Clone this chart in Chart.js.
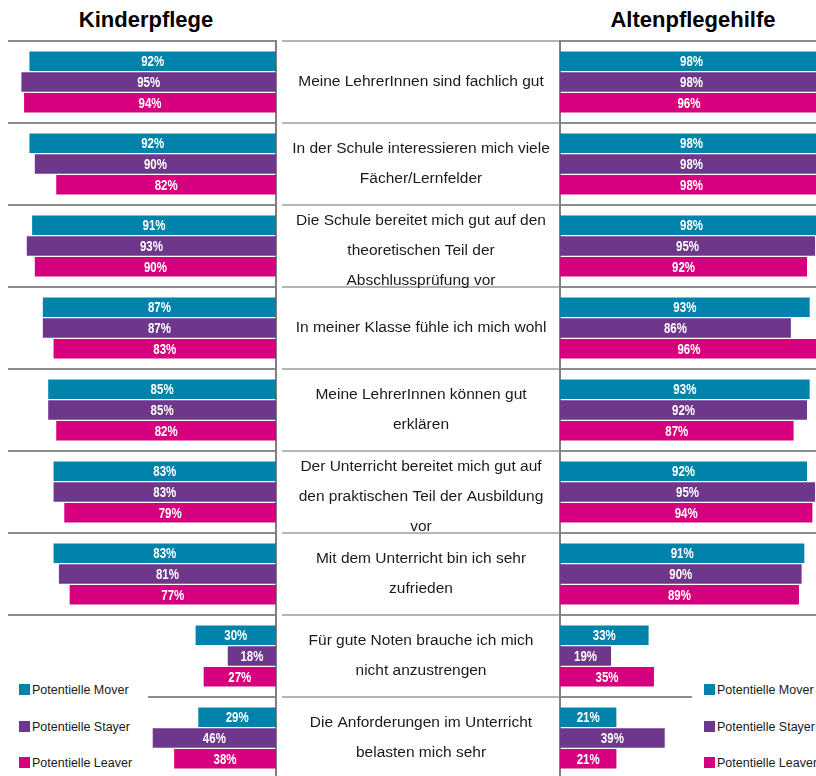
<!DOCTYPE html>
<html>
<head>
<meta charset="utf-8">
<script src="https://cdn.jsdelivr.net/npm/chart.js@4.4.0/dist/chart.umd.min.js"></script>
<style>
  body { margin: 0; background: #fff; overflow: hidden; width: 816px; height: 776px; position: relative; font-family: "Liberation Sans", Arial, sans-serif; }
  canvas { position: absolute; top: 0; }
  #leftChart { left: 0; }
  #rightChart { left: 280px; }
  .title { position: absolute; top: 9px; width: 300px; line-height: 22px; font-size: 22px; font-weight: bold; text-align: center; color: #000; }
  .legend { position: absolute; top: 680px; height: 96px; background: #fff; }
  .legend div { position: absolute; font-size: 12.5px; line-height: 14px; white-space: nowrap; color: #1a1a1a; }
  .legend span { display: inline-block; width: 11px; height: 11px; margin-right: 2px; vertical-align: -1px; }
</style>
</head>
<body>
<div class="title" style="left:-4px">Kinderpflege</div>
<div class="title" style="left:543px">Altenpflegehilfe</div>
<canvas id="leftChart" width="280" height="790"></canvas>
<canvas id="rightChart" width="536" height="790"></canvas>
<div class="legend" id="legendLeft" style="left:0; width:148px"></div>
<div class="legend" id="legendRight" style="left:692px; width:124px"></div>
<script>
const categories = [
    ['Meine LehrerInnen sind fachlich gut'],
    ['In der Schule interessieren mich viele', 'Fächer/Lernfelder'],
    ['Die Schule bereitet mich gut auf den', 'theoretischen Teil der', 'Abschlussprüfung vor'],
    ['In meiner Klasse fühle ich mich wohl'],
    ['Meine LehrerInnen können gut', 'erklären'],
    ['Der Unterricht bereitet mich gut auf', 'den praktischen Teil der Ausbildung', 'vor'],
    ['Mit dem Unterricht bin ich sehr', 'zufrieden'],
    ['Für gute Noten brauche ich mich', 'nicht anzustrengen'],
    ['Die Anforderungen im Unterricht', 'belasten mich sehr']
];
const seriesNames = ['Potentielle Mover', 'Potentielle Stayer', 'Potentielle Leaver'];

// Kinderpflege
const kinderMover  = [92, 92, 91, 87, 85, 83, 83, 30, 29];
const kinderStayer = [95, 90, 93, 87, 85, 83, 81, 18, 46];
const kinderLeaver = [94, 82, 90, 83, 82, 79, 77, 27, 38];

// Altenpflegehilfe
const altenMover  = [98, 98, 98, 93, 93, 92, 91, 33, 21];
const altenStayer = [98, 98, 95, 86, 92, 95, 90, 19, 39];
const altenLeaver = [96, 98, 92, 96, 87, 94, 89, 35, 21];

const colors = ['#0083aa', '#6f378c', '#d6007e'];

function makeDatasets(values) {
    return values.map((v, i) => ({
        label: seriesNames[i],
        data: v,
        backgroundColor: colors[i],
        barPercentage: 0.94,
        categoryPercentage: 0.76
    }));
}

// white percentage inside each bar, squeezed a bit to look like a narrow font
const barLabels = {
    id: 'barLabels',
    afterDatasetsDraw(chart) {
        const ctx = chart.ctx;
        ctx.save();
        ctx.fillStyle = '#fff';
        ctx.font = 'bold 14px "Liberation Sans", Arial, sans-serif';
        ctx.textAlign = 'center';
        ctx.textBaseline = 'middle';
        chart.data.datasets.forEach((ds, i) => {
            chart.getDatasetMeta(i).data.forEach((bar, j) => {
                const cx = (bar.x + bar.base) / 2;
                ctx.save();
                ctx.translate(cx, bar.y + 1);
                ctx.scale(0.82, 1);
                ctx.fillText(ds.data[j] + '%', 0, 0);
                ctx.restore();
            });
        });
        ctx.restore();
    }
};

// statements in the middle column, drawn on the right chart's y axis area
const rowLabels = {
    id: 'rowLabels',
    afterDraw(chart) {
        const y = chart.scales.y;
        const ctx = chart.ctx;
        const cx = (y.left + y.right) / 2;
        ctx.save();
        ctx.fillStyle = '#1a1a1a';
        ctx.font = '15.5px "Liberation Sans", Arial, sans-serif';
        ctx.textAlign = 'center';
        ctx.textBaseline = 'middle';
        categories.forEach((lines, i) => {
            const cy = y.getPixelForValue(i);
            const shift = lines.length > 2 ? 5 : 0;
            lines.forEach((t, k) => {
                ctx.fillText(t, cx, cy + (k - (lines.length - 1) / 2) * 30 + shift);
            });
        });
        ctx.restore();
    }
};

const common = {
    indexAxis: 'y',
    responsive: false,
    animation: false,
    plugins: { legend: { display: false }, tooltip: { enabled: false } }
};

new Chart(document.getElementById('leftChart'), {
    type: 'bar',
    data: { labels: categories, datasets: makeDatasets([kinderMover, kinderStayer, kinderLeaver]) },
    options: {
        ...common,
        layout: { padding: { left: 8, right: 4, top: 41, bottom: 11 } },
        scales: {
            x: { display: false, reverse: true, min: 0, max: 100 },
            y: {
                position: 'right',
                ticks: { display: false },
                grid: { color: '#8c8c8c', lineWidth: 2, drawTicks: false },
                border: { color: '#7f7f7f', width: 2 }
            }
        }
    },
    plugins: [barLabels]
});

new Chart(document.getElementById('rightChart'), {
    type: 'bar',
    data: { labels: categories, datasets: makeDatasets([altenMover, altenStayer, altenLeaver]) },
    options: {
        ...common,
        layout: { padding: { left: 2, right: 0, top: 41, bottom: 11 } },
        scales: {
            x: { display: false, min: 0, max: 95.35 },
            y: {
                position: 'left',
                ticks: { display: false },
                grid: { color: '#8c8c8c', lineWidth: 2, drawTicks: true, tickLength: 278, tickColor: '#b4b4b4' },
                border: { color: '#7f7f7f', width: 2 },
                afterFit(scale) { scale.width = 278; }
            }
        }
    },
    plugins: [barLabels, rowLabels]
});

function buildLegend(id, left) {
    const box = document.getElementById(id);
    const rowsY = [690, 727, 763];
    seriesNames.forEach((name, i) => {
        const item = document.createElement('div');
        item.style.left = left + 'px';
        item.style.top = (rowsY[i] - 680 - 7) + 'px';
        item.innerHTML = '<span style="background:' + colors[i] + '"></span>' + name;
        box.appendChild(item);
    });
}
buildLegend('legendLeft', 19);
buildLegend('legendRight', 12);
</script>
</body>
</html>
